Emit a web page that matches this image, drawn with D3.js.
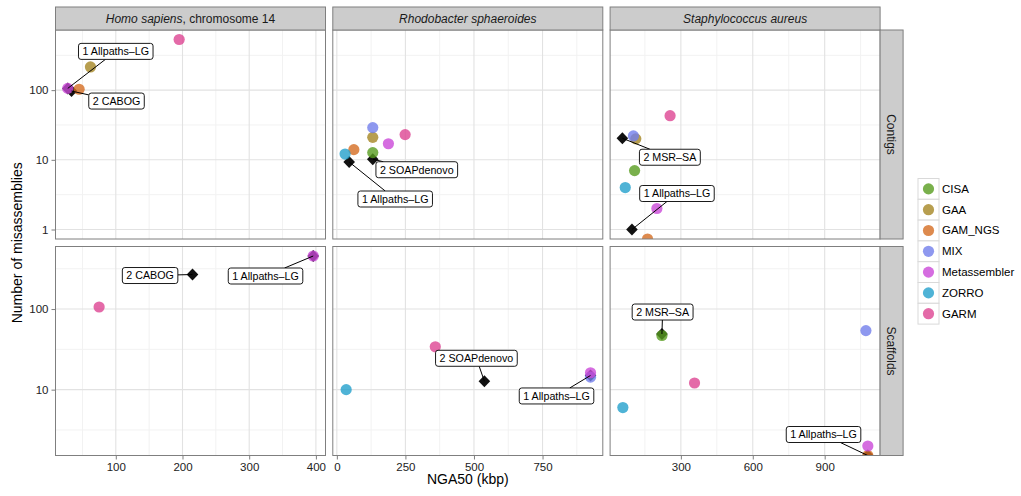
<!DOCTYPE html>
<html><head><meta charset="utf-8">
<script src="https://cdn.jsdelivr.net/npm/d3@7"></script>
<style>
body{margin:0;background:#fff;}
text{font-family:"Liberation Sans",Arial,Helvetica,sans-serif;}
</style>
</head><body><svg id="chart" width="1021" height="496"></svg>
<script>
// ---------------- data ----------------
const organisms = ["Homo sapiens", "Rhodobacter sphaeroides", "Staphylococcus aureus"];
const stripSuffix = [", chromosome 14", "", ""];
const types = ["Contigs", "Scaffolds"];
const methods = ["CISA", "GAA", "GAM_NGS", "MIX", "Metassembler", "ZORRO", "GARM"];
const methodColors = ["#579c1f", "#a58623", "#d46d22", "#727eeb", "#ca48d8", "#23a0cc", "#dd4592"];

// [method, NGA50 (kbp), number of misassemblies]
const homoContigs = [["GAA", 62, 215], ["GAM_NGS", 45, 103], ["Metassembler", 28, 106], ["GARM", 195, 533]];
const rhodoContigs = [["MIX", 131, 29], ["GAA", 131, 21], ["GARM", 249, 23], ["Metassembler", 188, 17],
                      ["GAM_NGS", 62, 14], ["CISA", 131, 12.7], ["ZORRO", 30, 12.1]];
const staphContigs = [["GARM", 255, 43], ["MIX", 102, 22], ["GAA", 112, 20], ["CISA", 107, 7],
                      ["ZORRO", 68, 4], ["Metassembler", 200, 2], ["GAM_NGS", 161, 0]];
const homoScaffolds = [["GARM", 75, 106], ["Metassembler", 396, 455]];
const rhodoScaffolds = [["ZORRO", 34, 10], ["GARM", 359, 34], ["MIX", 925, 14.3], ["Metassembler", 925, 16.2]];
const staphScaffolds = [["MIX", 1072, 54], ["CISA", 221, 47], ["GARM", 357, 12.1], ["ZORRO", 58, 6],
                        ["Metassembler", 1080, 2], ["GAM_NGS", 1080, 0]];

// reference assemblies: [organism, type, label, NGA50, misassemblies]
const refAssemblies = [
  ["Homo sapiens", "Contigs", "1 Allpaths–LG", 28, 106],
  ["Homo sapiens", "Contigs", "2 CABOG", 33.6, 97],
  ["Rhodobacter sphaeroides", "Contigs", "1 Allpaths–LG", 45, 9.3],
  ["Rhodobacter sphaeroides", "Contigs", "2 SOAPdenovo", 131, 10.2],
  ["Staphylococcus aureus", "Contigs", "1 Allpaths–LG", 96, 1],
  ["Staphylococcus aureus", "Contigs", "2 MSR–SA", 56, 20.4],
  ["Homo sapiens", "Scaffolds", "1 Allpaths–LG", 396, 455],
  ["Homo sapiens", "Scaffolds", "2 CABOG", 215, 268],
  ["Rhodobacter sphaeroides", "Scaffolds", "1 Allpaths–LG", 925, 15],
  ["Rhodobacter sphaeroides", "Scaffolds", "2 SOAPdenovo", 538, 12.7],
  ["Staphylococcus aureus", "Scaffolds", "1 Allpaths–LG", 1080, 0],
  ["Staphylococcus aureus", "Scaffolds", "2 MSR–SA", 221, 49]
];
// label placement (pixel nudges from the labelled point), like a repel layout
const labelNudge = [[48,-37],[45,10],[46,37],[44,10.5],[45,-36],[47.5,19],
                    [-47.7,20],[-42.4,1],[-34,20.5],[-8,-23],[-44.3,-21],[0.7,-22]];

const xTicks = [[100, 200, 300, 400], [0, 250, 500, 750], [300, 600, 900]];
const yTicks = [[1, 10, 100], [10, 100]];

// ---------------- layout ----------------
const panels = [
  [homoContigs, rhodoContigs, staphContigs],
  [homoScaffolds, rhodoScaffolds, staphScaffolds]
];
const L = 55.5, PW = 270, GX = 7.3, T = 30, PH = 209, GY = 7.5;
const stripH = 23, stripW = 23;
const colX = i => L + i * (PW + GX);
const rowY = j => T + j * (PH + GY);
const color = d3.scaleOrdinal().domain(methods).range(methodColors);
const ALPHA = 0.8;

const svg = d3.select("#chart");
const font = '"Liberation Sans",Arial,Helvetica,sans-serif';

// x scales per column (shared by rows), with 5% expansion
const xScales = organisms.map((o, c) => {
  const vals = [];
  panels.forEach(r => r[c].forEach(d => vals.push(d[1])));
  refAssemblies.filter(r => r[0] === o).forEach(r => vals.push(r[3]));
  const [a, b] = d3.extent(vals), e = (b - a) * 0.05;
  return d3.scaleLinear().domain([a - e, b + e]).range([0, PW]);
});
// y scales per row (log), with 5% expansion in log space; zeros excluded
const yScales = types.map((t, r) => {
  const vals = [];
  panels[r].forEach(p => p.forEach(d => { if (d[2] > 0) vals.push(Math.log10(d[2])); }));
  refAssemblies.filter(q => q[1] === t && q[4] > 0).forEach(q => vals.push(Math.log10(q[4])));
  const [a, b] = d3.extent(vals), e = (b - a) * 0.05;
  return d3.scaleLog().domain([Math.pow(10, a - e), Math.pow(10, b + e)]).range([PH, 0]);
});
const yPos = (ys, v) => v > 0 ? ys(v) : PH; // zero -> -Inf drawn at panel edge

const diamond = "M0,-6L5.8,0L0,6L-5.8,0Z";

svg.append("defs").append("clipPath").attr("id", "pclip")
  .append("rect").attr("width", PW).attr("height", PH);

types.forEach((t, r) => {
  organisms.forEach((o, c) => {
    const xs = xScales[c], ys = yScales[r];
    const g = svg.append("g").attr("transform", `translate(${colX(c)},${rowY(r)})`);
    g.append("rect").attr("width", PW).attr("height", PH).attr("fill", "#fff");
    // grid minor x
    const xt = xTicks[c], step = xt[1] - xt[0];
    const [xd0, xd1] = xs.domain();
    const xMinor = xt.map(v => v - step / 2).concat([xt[xt.length - 1] + step / 2]).filter(v => v > xd0 && v < xd1);
    const xMajor = d3.range(xt[0] - step * 2, xt[xt.length - 1] + step * 2, step).filter(v => v > xd0 && v < xd1);
    const [yd0, yd1] = ys.domain();
    const decades = d3.range(-2, 5).map(k => Math.pow(10, k));
    const yMajor = decades.filter(v => v > yd0 && v < yd1);
    const yMinor = d3.range(-2, 5).map(k => Math.pow(10, k + 0.5)).filter(v => v > yd0 && v < yd1);
    const gg = g.append("g");
    gg.selectAll(".xmin").data(xMinor).join("line").attr("x1", d => xs(d)).attr("x2", d => xs(d))
      .attr("y1", 0).attr("y2", PH).attr("stroke", "#f2f2f2").attr("stroke-width", 1);
    gg.selectAll(".ymin").data(yMinor).join("line").attr("y1", d => ys(d)).attr("y2", d => ys(d))
      .attr("x1", 0).attr("x2", PW).attr("stroke", "#f2f2f2").attr("stroke-width", 1);
    gg.selectAll(".xmaj").data(xMajor).join("line").attr("x1", d => xs(d)).attr("x2", d => xs(d))
      .attr("y1", 0).attr("y2", PH).attr("stroke", "#e2e2e2").attr("stroke-width", 1.1);
    gg.selectAll(".ymaj").data(yMajor).join("line").attr("y1", d => ys(d)).attr("y2", d => ys(d))
      .attr("x1", 0).attr("x2", PW).attr("stroke", "#e2e2e2").attr("stroke-width", 1.1);

    const pg = g.append("g").attr("clip-path", "url(#pclip)");
    const refs = refAssemblies.map((q, i) => ({q, i})).filter(d => d.q[0] === o && d.q[1] === t);
    pg.selectAll("path.ref").data(refs).join("path").attr("class", "ref")
      .attr("d", diamond).attr("fill", "#111")
      .attr("transform", d => `translate(${xs(d.q[3])},${yPos(ys, d.q[4])})`);
    const pts = panels[r][c].slice().sort((a, b) => methods.indexOf(a[0]) - methods.indexOf(b[0]));
    pg.selectAll("circle").data(pts).join("circle")
      .attr("cx", d => xs(d[1])).attr("cy", d => yPos(ys, d[2])).attr("r", 5.6)
      .attr("fill", d => color(d[0])).attr("fill-opacity", ALPHA);

    // labels
    refs.forEach(d => {
      const px = xs(d.q[3]), py = yPos(ys, d.q[4]);
      const [dx, dy] = labelNudge[d.i];
      const cx = px + dx, cy = py + dy;
      const lg = g.append("g");
      const line = lg.append("line");
      const rect = lg.append("rect");
      const tx = lg.append("text").attr("x", cx).attr("y", cy + 3.8).attr("text-anchor", "middle")
        .attr("font-size", 10.7).attr("fill", "#000").text(d.q[2]);
      const tw = tx.node().getComputedTextLength();
      const bw = tw + 8, bh = 16;
      rect.attr("x", cx - bw / 2).attr("y", cy - bh / 2).attr("width", bw).attr("height", bh)
        .attr("rx", 2.5).attr("fill", "#fff").attr("stroke", "#000").attr("stroke-width", 0.9);
      // segment from point to box edge along the centre line
      const vx = px - cx, vy = py - cy;
      const t1 = Math.min(vx !== 0 ? (bw / 2) / Math.abs(vx) : Infinity, vy !== 0 ? (bh / 2) / Math.abs(vy) : Infinity);
      if (t1 < 1) {
        line.attr("x1", cx + vx * t1).attr("y1", cy + vy * t1).attr("x2", px).attr("y2", py)
          .attr("stroke", "#000").attr("stroke-width", 1);
      }
    });

    g.append("rect").attr("width", PW).attr("height", PH).attr("fill", "none")
      .attr("stroke", "#7f7f7f").attr("stroke-width", 1);

    // axes
    if (c === 0) {
      const ax = g.append("g").call(d3.axisLeft(ys).tickValues(yTicks[r]).tickFormat(d3.format("d")).tickSize(4).tickPadding(3));
      ax.select(".domain").remove();
      ax.selectAll("line").attr("stroke", "#7f7f7f");
      ax.selectAll("text").attr("font-size", 11.5).attr("fill", "#222").attr("font-family", font);
    }
    if (r === 1) {
      const ax = g.append("g").attr("transform", `translate(0,${PH})`)
        .call(d3.axisBottom(xs).tickValues(xTicks[c]).tickFormat(d3.format("d")).tickSize(4).tickPadding(3));
      ax.select(".domain").remove();
      ax.selectAll("line").attr("stroke", "#7f7f7f");
      ax.selectAll("text").attr("font-size", 11.5).attr("fill", "#222").attr("font-family", font);
    }
    // top strips
    if (r === 0) {
      const s = svg.append("g").attr("transform", `translate(${colX(c)},${T - stripH})`);
      s.append("rect").attr("width", PW).attr("height", stripH).attr("fill", "#cccccc")
        .attr("stroke", "#7f7f7f").attr("stroke-width", 1);
      const st = s.append("text").attr("x", PW / 2).attr("y", stripH / 2 + 4.2).attr("text-anchor", "middle")
        .attr("font-size", 12).attr("fill", "#1a1a1a");
      st.append("tspan").attr("font-style", "italic").text(o);
      if (stripSuffix[c]) st.append("tspan").text(stripSuffix[c]);
    }
    // right strips
    if (c === organisms.length - 1) {
      const s = svg.append("g").attr("transform", `translate(${colX(c) + PW},${rowY(r)})`);
      s.append("rect").attr("width", stripW).attr("height", PH).attr("fill", "#cccccc")
        .attr("stroke", "#7f7f7f").attr("stroke-width", 1);
      s.append("text").attr("transform", `translate(${stripW / 2 - 4.2},${PH / 2}) rotate(90)`)
        .attr("text-anchor", "middle").attr("font-size", 12).attr("fill", "#1a1a1a").text(t);
    }
  });
});

// axis titles
const right = colX(2) + PW;
svg.append("text").attr("x", (L + right) / 2).attr("y", 484).attr("text-anchor", "middle")
  .attr("font-size", 14).attr("fill", "#000").text("NGA50 (kbp)");
svg.append("text").attr("transform", `translate(22,${(T + rowY(1) + PH) / 2}) rotate(-90)`)
  .attr("text-anchor", "middle").attr("font-size", 14).attr("fill", "#000").text("Number of misassemblies");

// legend
const lg = svg.append("g").attr("transform", "translate(918,178.5)");
const keyH = 20.8;
methods.forEach((m, i) => {
  const k = lg.append("g").attr("transform", `translate(0,${i * keyH})`);
  k.append("rect").attr("width", 21).attr("height", keyH).attr("fill", "#fff")
    .attr("stroke", "#d9d9d9").attr("stroke-width", 1);
  k.append("circle").attr("cx", 10.5).attr("cy", keyH / 2).attr("r", 5.6)
    .attr("fill", color(m)).attr("fill-opacity", ALPHA);
  k.append("text").attr("x", 24).attr("y", keyH / 2 + 4).attr("font-size", 11.5).attr("fill", "#000").text(m);
});
</script></body></html>
